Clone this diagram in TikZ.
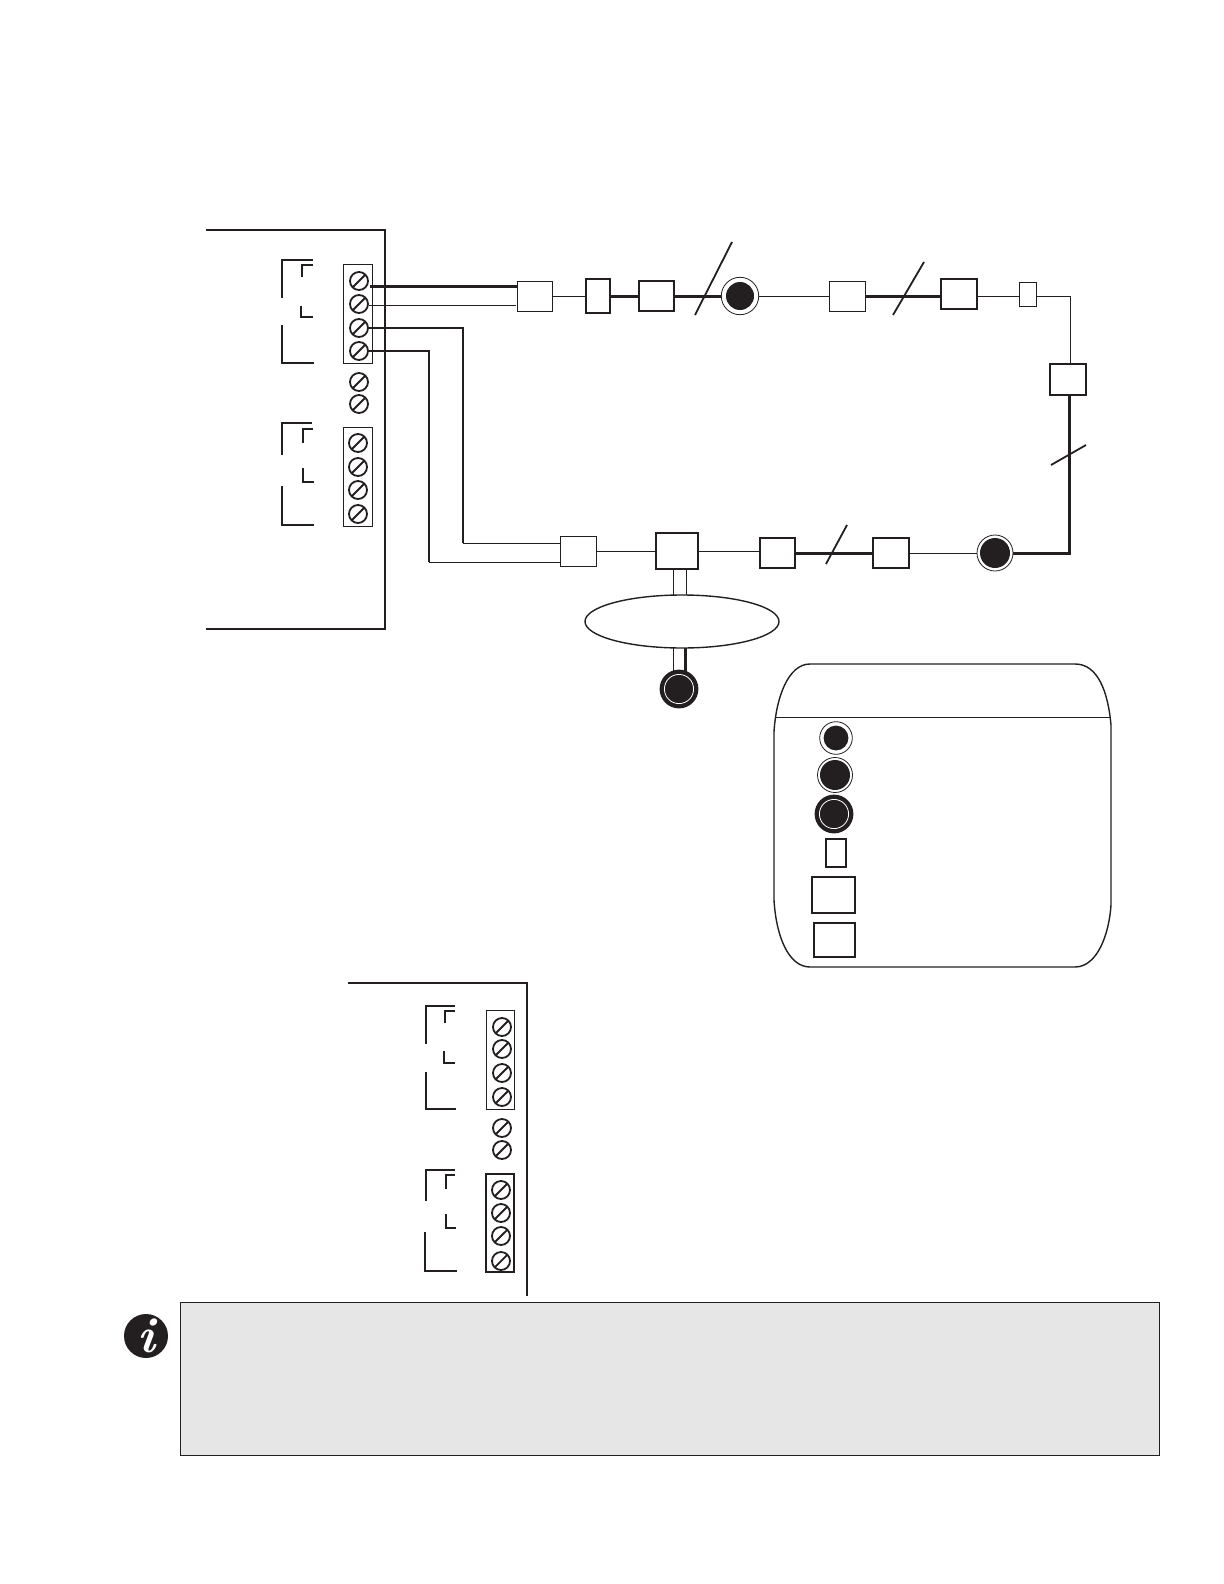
\documentclass[tikz,border=0pt]{standalone}
\usepackage{xcolor}
\usetikzlibrary{positioning,
				shapes.geometric,
				calc}
\definecolor{notegray}{HTML}{E6E6E6}
\definecolor{dotblack}{HTML}{231F20}
\tikzset{
	frameline/.style={line width=1pt,dotblack},
	thinwire/.style={line width=.5pt,dotblack},
	midwire/.style={line width=.9pt,dotblack},
	thickwire/.style={line width=1.5pt,dotblack},
	bx/.style n args={3}{draw=dotblack,fill=white,line width=#3,minimum width=#1*.5pt,minimum height=#2*.5pt,inner sep=0pt,outer sep=0pt},
	strip/.style={bx={#1}{99}{.5pt}},
	screw/.style={circle,draw=dotblack,line width=.9pt,minimum size=9pt,inner sep=0pt,
		path picture={\draw[dotblack,line width=.9pt] (path picture bounding box.south west) -- (path picture bounding box.north east);}},
	dotnode/.style 2 args={circle,draw=dotblack,fill=white,line width=.4pt,minimum size=#1,inner sep=0pt,outer sep=0pt,
		path picture={\fill[dotblack] (path picture bounding box.center) circle (#2);}},
	ringnode/.style 2 args={circle,draw=dotblack,fill=dotblack,line width=1.4pt,minimum size=#1,inner sep=0pt,outer sep=0pt,
		path picture={\draw[white,line width=.4pt] (path picture bounding box.center) circle (#2);}}
}
\begin{document}
\begin{tikzpicture}[x=.5pt,y=-.5pt]
	\useasboundingbox (0,0) rectangle (1224,1584);

	% first block
	\draw[frameline] (206,230) -- (385,230) -- (385,629) -- (206,629);
	\node[strip=29] (stripa) at (357.5,313.5) {};
	\node[strip=29] (stripb) at (357.5,476.5) {};
	\foreach \n/\y in {1/281,2/304,3/328,4/351,5/382,6/404}
		\node[screw] (s\n) at (359,\y) {};
	\foreach \n/\y in {1/443,2/467,3/490,4/514}
		\node[screw] (t\n) at (358,\y) {};
	\draw[frameline] (282,298) |- (313,260) (302,277) |- (313,265) (301,306) |- (313,317) (282,325) |- (314,363);
	\draw[frameline] (282,455) |- (312,423) (303,443) |- (313,429) (303,468) |- (314,482) (282,486) |- (314,525);

	% top run
	\node[bx={35}{30}{.5pt}] (a1) at (534.5,296) {};
	\node[bx={24}{34}{.8pt}] (a2) at (598,296) {};
	\node[bx={35}{30}{.6pt}] (a3) at (656.5,296) {};
	\node[dotnode={18.7pt}{7pt}] (c1) at (740,296) {};
	\node[bx={36}{30}{.5pt}] (a4) at (847,296) {};
	\node[bx={36}{30}{.9pt}] (a5) at (959,294) {};
	\node[bx={17}{24}{.5pt}] (a6) at (1027.5,294) {};
	\node[bx={36}{31}{.6pt}] (a7) at (1068,379.5) {};
	\coordinate (w1) at (370,286);
	\coordinate (k1) at (1070,296);
	\draw[thickwire] (w1) -- (w1 -| a1.west);
	\draw[thinwire] (s2.east) ++(0,1) -- (516,305);
	\draw[thinwire] (a1.east) -- (a2.west);
	\draw[thickwire] (a2.east) -- (a3.west);
	\draw[thickwire] (a3.east) -- (c1.west);
	\draw[thinwire] (c1.east) -- (a4.west);
	\draw[thickwire] (a4.east) -- (a4.east -| a5.west);
	\draw[thinwire] (a5.east |- k1) -- (a6.west |- k1);
	\draw[thinwire] (a6.east |- k1) -- (k1) -- (k1 |- a7.north);
	\draw[midwire] (695,315) -- (732,242);
	\draw[midwire] (893,315) -- (924,262);

	% bottom run
	\node[bx={36}{30}{.5pt}] (b1) at (578,551) {};
	\node[bx={42}{36}{.6pt}] (b2) at (677,551) {};
	\node[bx={35}{30}{.9pt}] (b3) at (777.5,553) {};
	\node[bx={36}{30}{.9pt}] (b4) at (891,553) {};
	\node[dotnode={18pt}{7.5pt}] (c2) at (995,553) {};
	\coordinate (k3) at (463,543);
	\coordinate (k4) at (429,562);
	\coordinate (k5) at (1069,553);
	\draw[midwire] (s3.east) -| (k3);
	\draw[thinwire] (k3) -- (k3 -| b1.west);
	\draw[midwire] (s4.east) -| (k4);
	\draw[thinwire] (k4) -- (k4 -| b1.west);
	\draw[thinwire] (b1.east) -- (b2.west);
	\draw[thinwire] (b2.east) -- (b2.east -| b3.west);
	\draw[thickwire] (b3.east) -- (b4.west);
	\draw[thinwire] (b4.east) -- (c2.west);
	\draw[thickwire] (c2.east) -- (k5) -- (k5 |- a7.south);
	\draw[midwire] (826,564) -- (847,525);
	\draw[midwire] (1051,465) -- (1086,445);

	% tee to the ellipse
	\node[ellipse,draw=dotblack,line width=.7pt,minimum width=97pt,minimum height=26.5pt,inner sep=0pt,outer sep=0pt] (ell) at (682,621.5) {};
	\node[ringnode={18pt}{7.3pt}] (c3) at (679,689) {};
	\coordinate (p1) at (673,600);
	\coordinate (p2) at (686,600);
	\coordinate (p3) at (685,660);
	\draw[thinwire] (p1 |- b2.south) -- (p1 |- ell.north);
	\draw[thinwire] (p2 |- b2.south) -- (p2 |- ell.north);
	\draw[thinwire] (p1 |- ell.south) -- (p1 |- c3.north);
	\draw[thickwire] (p3 |- ell.south) -- (p3 |- c3.north);

	% legend
	\draw[line width=.7pt,dotblack] (810,664) -- (1075,664) .. controls (1098,664) and (1108,692) .. (1111,725) -- (1111,905)
		.. controls (1109,935) and (1097,967) .. (1075,967) -- (810,967)
		.. controls (788,967) and (776,935) .. (774,900) -- (774,732)
		.. controls (776,698) and (788,664) .. (810,664) -- cycle;
	\coordinate (l1) at (776,717);
	\coordinate (l2) at (1111,717);
	\draw[thinwire] (l1) -- (l2);
	\node[dotnode={16.3pt}{6.2pt}] (key1) at (836,738) {};
	\node[dotnode={17.5pt}{7.5pt}] (key2) at (835,775) {};
	\node[ringnode={18pt}{7.3pt}] (key3) at (834,814) {};
	\node[bx={20}{28}{.7pt}] (key4) at (836,853) {};
	\node[bx={43}{36}{.7pt}] (key5) at (833.5,895) {};
	\node[bx={41}{34}{.7pt}] (key6) at (834.5,940) {};

	% second block
	\draw[frameline] (348,983) -- (527,983) -- (527,1296);
	\node[strip=28] (stripc) at (500,1059.5) {};
	\node[bx={28}{98}{.8pt}] (stripd) at (500,1223) {};
	\foreach \n/\y in {1/1027,2/1049,3/1073,4/1097,5/1128,6/1150}
		\node[screw] (u\n) at (502,\y) {};
	\foreach \n/\y in {1/1190,2/1213,3/1236,4/1261}
		\node[screw] (v\n) at (501,\y) {};
	\draw[frameline] (426,1044) |- (455,1006) (445,1023) |- (455,1011) (444,1051) |- (455,1063) (426,1072) |- (456,1109);
	\draw[frameline] (426,1201) |- (455,1170) (446,1189) |- (455,1175) (446,1214) |- (456,1228) (425,1232) |- (457,1271);

	% note
	\node[bx={979}{153}{.45pt},fill=notegray] (note) at (669.5,1378.5) {};
	\node[circle,fill=dotblack,minimum size=22pt,inner sep=0pt,text=white,font=\fontsize{25}{25}\selectfont\bfseries\itshape] (info) at (146,1336) {i};
\end{tikzpicture}
\end{document}
